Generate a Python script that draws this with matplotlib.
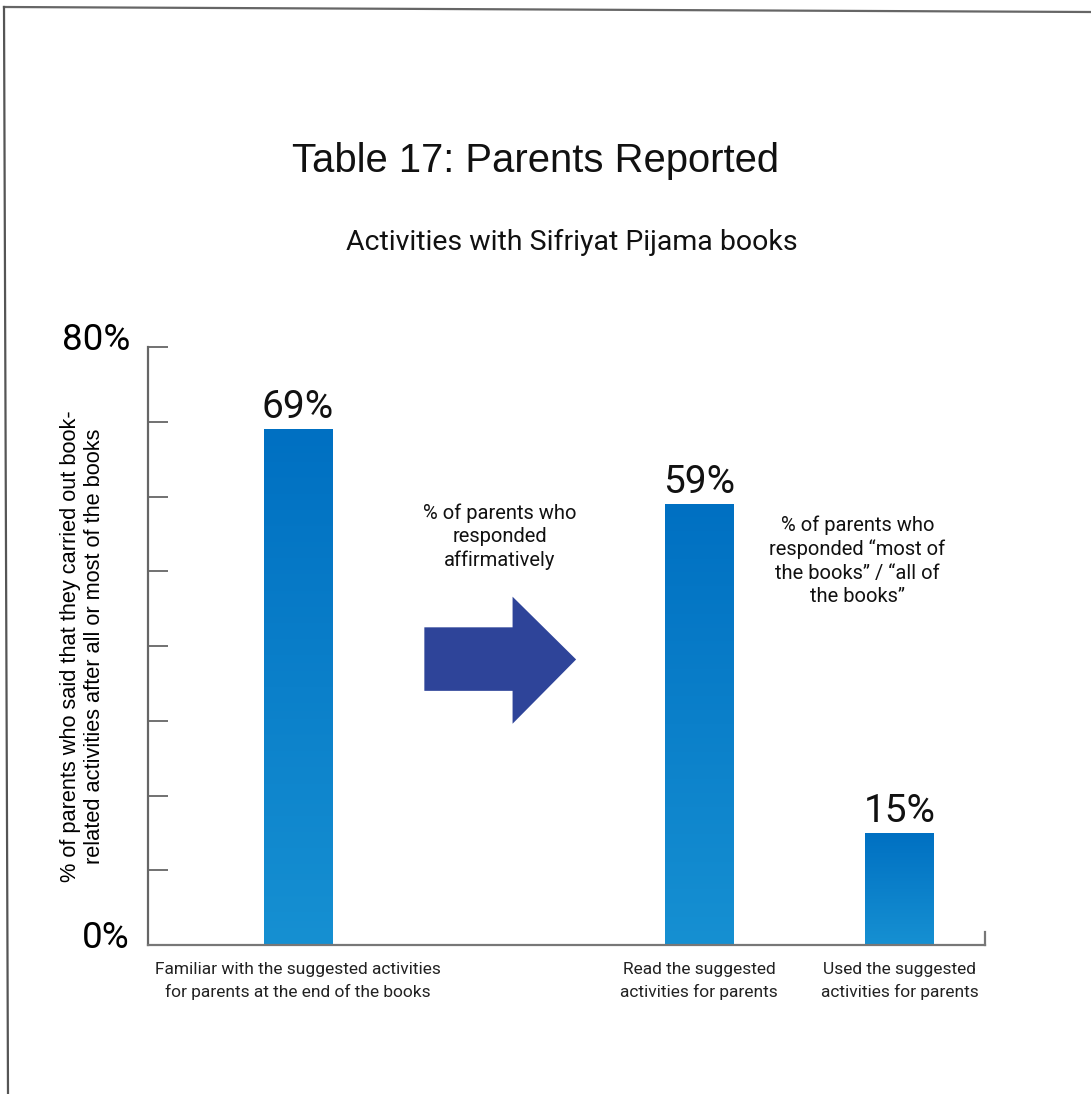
import numpy as np
import matplotlib
matplotlib.use('Agg')
import matplotlib.pyplot as plt
import matplotlib.transforms as mtrans
from matplotlib.lines import Line2D
from matplotlib.patches import Polygon
from matplotlib.colors import LinearSegmentedColormap

categories = ["Familiar with the suggested activities\nfor parents at the end of the books",
              "Read the suggested\nactivities for parents",
              "Used the suggested\nactivities for parents"]
positions = [0, 2, 3]
values = [69, 59, 15]
value_labels = ["69%", "59%", "15%"]
note_left = "% of parents who\nresponded\naffirmatively"
note_right = "% of parents who\nresponded \u201cmost of\nthe books\u201d / \u201call of\nthe books\u201d"

fig = plt.figure(figsize=(10.91, 10.94), dpi=100)
ax = fig.add_axes([0.1357, 0.1362, 0.7671, 0.5466])

# bars with vertical gradient
cmap = LinearSegmentedColormap.from_list("barblue", ["#1690d2", "#0070c2"])
grad = np.linspace(0, 1, 256).reshape(-1, 1)
bars = ax.bar(positions, values, width=0.34, color="none", edgecolor="none")
for b, lbl in zip(bars, value_labels):
    x, w, h = b.get_x(), b.get_width(), b.get_height()
    im = ax.imshow(grad, cmap=cmap, extent=[x, x + w, 0, h], origin="lower",
                   aspect="auto", zorder=2)
    im.set_clip_path(b)
    ax.text(x + w / 2, h + 0.4, lbl, ha="center", va="bottom",
            fontsize=28, family="Roboto", color="#111111")

ax.set_xlim(-0.748, 3.426)
ax.set_ylim(0, 80)

# axes styling
for s in ["top", "right"]:
    ax.spines[s].set_visible(False)
ax.spines["left"].set_color("#666666")
ax.spines["left"].set_linewidth(1.6)
ax.spines["bottom"].set_color("#777777")
ax.spines["bottom"].set_linewidth(1.6)
ax.axvline(3.426, 0, 0.022, color="#777777", lw=1.6, clip_on=False)

ax.set_yticks(list(range(0, 81, 10)))
ax.set_yticklabels(["0%"] + [""] * 7 + ["80%"], fontsize=26.5, family="Roboto")
ax.tick_params(axis="y", direction="in", length=14.5, width=1.3, color="#666666", pad=13)
off = mtrans.ScaledTranslation(0, 8 / 72, fig.dpi_scale_trans)
for lab in ax.get_yticklabels():
    lab.set_transform(lab.get_transform() + off)

ax.set_xticks(positions)
ax.set_xticklabels(categories, fontsize=12.5, family="Roboto", color="#222222",
                   linespacing=1.55)
ax.tick_params(axis="x", length=0, pad=12)

ax.set_ylabel("% of parents who said that they carried out book-\nrelated activities after all or most of the books",
              fontsize=15.7, family="Liberation Sans", linespacing=1.15)
ax.yaxis.set_label_coords(-0.052, 0.5)

# arrow
arrow = Polygon([[0.63, 34.0], [1.07, 34.0], [1.07, 29.6], [1.387, 38.2],
                 [1.07, 46.6], [1.07, 42.5], [0.63, 42.5]],
                closed=True, facecolor="#2e4499", edgecolor="none", zorder=3)
ax.add_patch(arrow)

ax.text(1.007, 54.6, note_left, ha="center", va="center", fontsize=14.5,
        family="Roboto", linespacing=1.3, color="#111111")
ax.text(2.79, 51.4, note_right, ha="center", va="center", fontsize=14.5,
        family="Roboto", linespacing=1.3, color="#111111")

fig.text(0.491, 0.8525, "Table 17: Parents Reported", ha="center", va="center",
         fontsize=28.8, family="Liberation Sans", color="#111111")
fig.text(0.524, 0.7785, "Activities with Sifriyat Pijama books", ha="center",
         va="center", fontsize=20.5, family="Roboto", color="#111111")

# frame lines at top and left
fig.add_artist(Line2D([4 / 1091, 1], [1 - 7 / 1094, 1 - 12 / 1094], color="#666666", lw=1.6))
fig.add_artist(Line2D([4 / 1091, 8 / 1091], [1 - 7 / 1094, 0], color="#555555", lw=1.6))

fig.savefig("out.png", dpi=100)
